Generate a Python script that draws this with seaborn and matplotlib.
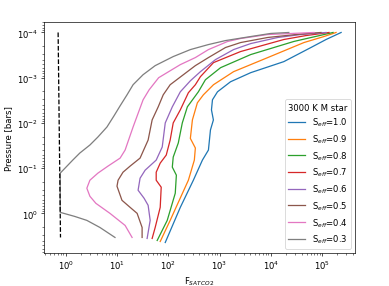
import numpy as np
import pandas as pd
import matplotlib
matplotlib.use("Agg")
import matplotlib.pyplot as plt
import seaborn as sns

# ── Data ─────────────────────────────────────────────────────────────────────
s_labels = ["1.0", "0.9", "0.8", "0.7", "0.6", "0.5", "0.4", "0.3"]

p_s10 = [1e-4, 1.43e-4, 2.15e-4, 4.41e-4, 7.74e-4, 1.23e-3, 2.05e-3, 3.08e-3,
         5.14e-3, 8.6e-3, 1.43e-2, 3.98e-2, 6.64e-2, 0.185, 0.736, 4.41]
f_s10 = [2.36e5, 1.20e5, 6.08e4, 1.80e4, 4.06e3, 1.64e3, 914, 729,
         697, 760, 666, 608, 464, 309, 172, 87.4]

p_s09 = [1e-4, 1.23e-4, 1.67e-4, 3.59e-4, 7.36e-4, 1.43e-3, 2.39e-3, 3.59e-3,
         8.58e-3, 2.2e-2, 3.59e-2, 6.64e-2, 0.185, 0.514, 1.43, 4.19]
f_s09 = [1.88e5, 1.09e5, 4.44e4, 8.73e3, 1.88e3, 763, 485, 370,
         296, 270, 338, 323, 247, 164, 109, 69.7]

p_s08 = [1e-4, 1.58e-4, 3.08e-4, 6.0e-4, 1.11e-3, 2.05e-3, 4.41e-3, 1e-2,
         2.78e-2, 5.70e-2, 9.5e-2, 0.143, 0.359, 1.43, 3.98]
f_s08 = [1.64e5, 2.82e4, 4.06e3, 1.05e3, 531, 387, 236, 188,
         157, 125, 120, 144, 137, 95.5, 60.8]

p_s07 = [1e-4, 1.17e-4, 1.43e-4, 2.64e-4, 4.64e-4, 9.5e-4, 1.43e-3, 2.15e-3,
         5.14e-3, 1e-2, 2.39e-2, 5.14e-2, 7.74e-2, 0.123, 0.185, 0.264,
         0.736, 2.05, 3.59]
f_s07 = [1.37e5, 4.86e4, 1.80e4, 2.58e3, 763, 424, 338, 247,
         172, 125, 109, 91.4, 69.7, 58.2, 58.2, 72.9,
         69.7, 55.6, 48.5]

p_s06 = [1e-4, 1.11e-4, 1.29e-4, 1.76e-4, 2.39e-4, 3.98e-4, 7.36e-4, 1.17e-3,
         2.05e-3, 4.41e-3, 1e-2, 3.41e-2, 6.64e-2, 0.111, 0.167, 0.308,
         0.464, 0.664, 1.43, 3.59]
f_s06 = [1.20e5, 3.87e4, 1.37e4, 4.06e3, 1.88e3, 835, 424, 270,
         172, 120, 87.4, 76.3, 58.2, 35.4, 28.2, 25.8,
         33.8, 40.5, 44.4, 38.7]

p_s05 = [1e-4, 1.11e-4, 1.29e-4, 1.67e-4, 2.15e-4, 3.59e-4, 5.41e-4, 7.36e-4,
         1.43e-3, 2.39e-3, 4.41e-3, 8.58e-3, 2.39e-2, 6.0e-2, 9.03e-2, 0.123,
         0.185, 0.251, 0.514, 0.736, 1.0, 2.05, 3.41]
f_s05 = [9.55e4, 3.09e4, 8.73e3, 2.58e3, 1.31e3, 608, 338, 236,
         109, 79.8, 63.7, 48.5, 40.5, 28.2, 18.0, 13.1,
         10.5, 10.0, 12.5, 18.0, 24.7, 30.9, 30.9]

p_s04 = [1e-4, 1.11e-4, 1.36e-4, 1.58e-4, 2.39e-4, 3.59e-4, 5.14e-4, 1e-3,
         1.85e-3, 3.08e-3, 1.23e-2, 3.98e-2, 6.0e-2, 9.03e-2, 0.129, 0.185,
         0.278, 0.419, 0.60, 1.0, 1.85, 3.41]
f_s04 = [6.97e4, 8.73e3, 2.58e3, 1.44e3, 608, 338, 172, 65.0,
         42.4, 32.3, 20.6, 14.4, 11.5, 6.66, 4.24, 2.96,
         2.58, 2.96, 3.87, 7.29, 14.4, 19.7]

p_s03 = [1e-4, 1.05e-4, 1.23e-4, 1.51e-4, 1.85e-4, 2.39e-4, 3.41e-4, 5.41e-4,
         8.58e-4, 1.43e-3, 2.39e-3, 4.19e-3, 6.99e-3, 1.23e-2, 2.05e-2, 3.08e-2,
         4.64e-2, 6.64e-2, 0.129, 0.95, 1.17, 1.43, 2.05, 3.41]
f_s03 = [2.25e4, 1.0e4, 4.06e3, 1.31e3, 608, 270, 125, 55.6,
         32.3, 20.6, 15.7, 11.5, 8.73, 6.37, 4.24, 2.96,
         1.88, 1.37, 0.78, 0.78, 1.50, 2.58, 4.64, 9.14]

sat_p = [1e-4, 3.41]
sat_f = [0.71, 0.79]

curves = {
    "1.0": (f_s10, p_s10), "0.9": (f_s09, p_s09), "0.8": (f_s08, p_s08),
    "0.7": (f_s07, p_s07), "0.6": (f_s06, p_s06), "0.5": (f_s05, p_s05),
    "0.4": (f_s04, p_s04), "0.3": (f_s03, p_s03),
}

rows = []
for s in s_labels:
    f, p = curves[s]
    for fi, pi in zip(f, p):
        rows.append({"F": fi, "P": pi, "S": f"S$_{{eff}}$={s}"})
df = pd.DataFrame(rows)

# ── Plot ─────────────────────────────────────────────────────────────────────
fig = plt.figure(figsize=(6.4, 4.72))
ax = fig.add_axes([0.113, 0.115, 0.80, 0.805])

sns.lineplot(data=df, x="F", y="P", hue="S",
             hue_order=[f"S$_{{eff}}$={s}" for s in s_labels],
             palette="tab10", sort=False, estimator=None, ax=ax)
sns.lineplot(x=sat_f, y=sat_p, color="k", linestyle="--",
             sort=False, estimator=None, ax=ax)

ax.set_xscale("log")
ax.set_yscale("log")
ax.invert_yaxis()
ax.set_xlabel("F$_{SATCO2}$")
ax.set_ylabel("Pressure [bars]")
sns.move_legend(ax, "lower right", title="3000 K M star")

fig.savefig("out.png", dpi=60.8)
